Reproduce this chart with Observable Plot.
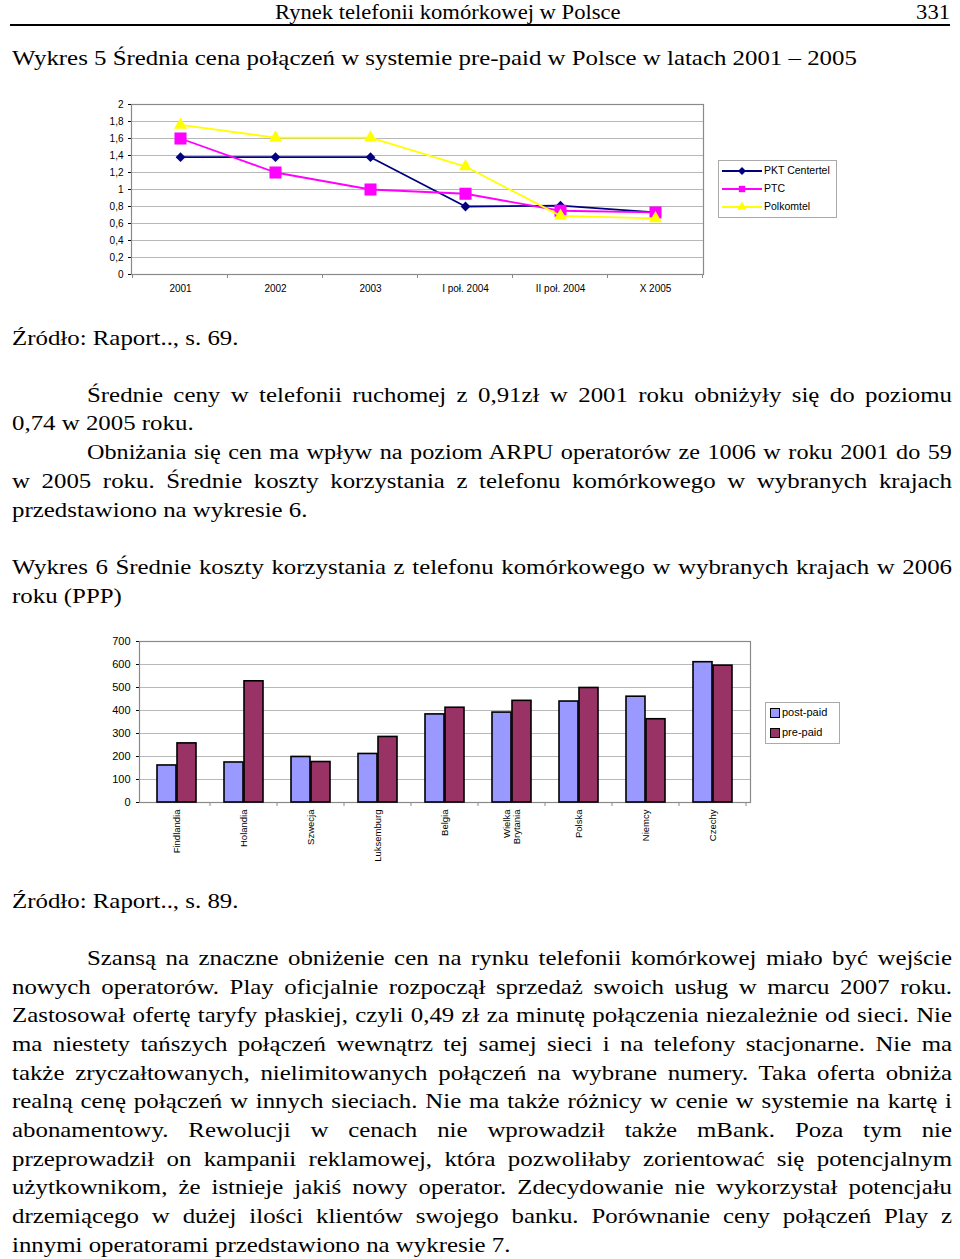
<!DOCTYPE html>
<html><head><meta charset="utf-8">
<script src="https://cdn.jsdelivr.net/npm/d3@7"></script>
<script src="https://cdn.jsdelivr.net/npm/@observablehq/plot@0.6"></script>
<style>
body{margin:0;background:#fff;width:960px;height:1259px;position:relative;overflow:hidden;font-family:"Liberation Serif","Times New Roman",serif;color:#000}
.t{position:absolute;font-size:22px;line-height:28.7px;white-space:nowrap;transform:scaleX(1.13);transform-origin:0 0}
.h{font-size:20px}
.ln{position:absolute;left:12px;width:831.9px;font-size:22px;line-height:28.7px;height:28.7px;overflow:visible;white-space:nowrap;transform:scaleX(1.13);transform-origin:0 0}
.j{text-align:justify;text-align-last:justify}
.ind{left:87px;width:765.5px}
.chart{position:absolute;left:0}
.leg{position:absolute;border:1px solid #aaa;background:#fff;font-family:"Liberation Sans",Arial,sans-serif;font-size:10.5px}
.leg div{position:absolute;white-space:nowrap}
</style></head>
<body>
<div class="t h" style="left:275px;top:-2px">Rynek telefonii komórkowej w Polsce</div>
<div class="t h" style="right:10px;top:-2px;transform-origin:100% 0">331</div>
<div style="position:absolute;left:10px;top:24px;width:940px;height:1.5px;background:#000"></div>
<div class="t" style="left:12px;top:44px">Wykres 5 Średnia cena połączeń w systemie pre-paid w Polsce w latach 2001 – 2005</div>
<div id="c1" class="chart" style="top:90px"></div>
<div id="leg1" class="leg" style="left:718px;top:160px;width:117px;height:56px"></div>
<div class="t" style="left:12px;top:324px">Źródło: Raport.., s. 69.</div>

<div class="ln ind j" style="top:381px">Średnie ceny w telefonii ruchomej z 0,91zł w 2001 roku obniżyły się do poziomu</div>
<div class="ln" style="top:409px">0,74 w 2005 roku.</div>
<div class="ln ind j" style="top:438px;font-size:21.6px;width:772.3px;transform:scaleX(1.12)">Obniżania się cen ma wpływ na poziom ARPU operatorów ze 1006 w roku 2001 do 59</div>
<div class="ln j" style="top:467px">w 2005 roku. Średnie koszty korzystania z telefonu komórkowego w wybranych krajach</div>
<div class="ln" style="top:496px">przedstawiono na wykresie 6.</div>

<div class="ln j" style="top:553px">Wykres 6 Średnie koszty korzystania z telefonu komórkowego w wybranych krajach w 2006</div>
<div class="ln" style="top:582px">roku (PPP)</div>
<div id="c2" class="chart" style="top:630px"></div>
<div id="leg2" class="leg" style="left:765px;top:702px;width:73px;height:40px"></div>
<div class="t" style="left:12px;top:887px">Źródło: Raport.., s. 89.</div>

<div class="ln ind j" style="top:944px">Szansą na znaczne obniżenie cen na rynku telefonii komórkowej miało być wejście</div>
<div class="ln j" style="top:973px">nowych operatorów. Play oficjalnie rozpoczął sprzedaż swoich usług w marcu 2007 roku.</div>
<div class="ln j" style="top:1001px">Zastosował ofertę taryfy płaskiej, czyli 0,49 zł za minutę połączenia niezależnie od sieci. Nie</div>
<div class="ln j" style="top:1030px">ma niestety tańszych połączeń wewnątrz tej samej sieci i na telefony stacjonarne. Nie ma</div>
<div class="ln j" style="top:1059px">także zryczałtowanych, nielimitowanych połączeń na wybrane numery. Taka oferta obniża</div>
<div class="ln j" style="top:1087px">realną cenę połączeń w innych sieciach. Nie ma także różnicy w cenie w systemie na kartę i</div>
<div class="ln j" style="top:1116px">abonamentowy. Rewolucji w cenach nie wprowadził także mBank. Poza tym nie</div>
<div class="ln j" style="top:1145px">przeprowadził on kampanii reklamowej, która pozwoliłaby zorientować się potencjalnym</div>
<div class="ln j" style="top:1173px">użytkownikom, że istnieje jakiś nowy operator. Zdecydowanie nie wykorzystał potencjału</div>
<div class="ln j" style="top:1202px">drzemiącego w dużej ilości klientów swojego banku. Porównanie ceny połączeń Play z</div>
<div class="ln" style="top:1231px">innymi operatorami przedstawiono na wykresie 7.</div>

<script>
// ---- Chart 1 data ----
const periods = ["2001", "2002", "2003", "I poł. 2004", "II poł. 2004", "X 2005"];
const operators = ["PKT Centertel", "PTC", "Polkomtel"];
const pktCentertel = [1.38, 1.38, 1.38, 0.80, 0.81, 0.73];
const ptc = [1.60, 1.20, 1.00, 0.95, 0.75, 0.73];
const polkomtel = [1.76, 1.61, 1.61, 1.27, 0.69, 0.66];
const yTicks1 = [0, 0.2, 0.4, 0.6, 0.8, 1, 1.2, 1.4, 1.6, 1.8, 2];
const opColors = ["#000080", "#ff00ff", "#ffff00"];
const opSymbols = ["diamond2", "square", "triangle"];
const opSizes = [4.4, 6.8, 4.8];

// ---- Chart 2 data ----
const countries = ["Findlandia", "Holandia", "Szwecja", "Luksemburg", "Belgia", "Wielka\nBrytania", "Polska", "Niemcy", "Czechy"];
const seriesNames = ["post-paid", "pre-paid"];
const postPaid = [161, 174, 198, 211, 383, 391, 439, 460, 610];
const prePaid = [257, 527, 176, 285, 412, 442, 498, 362, 595];
const yTicks2 = [0, 100, 200, 300, 400, 500, 600, 700];
const seriesColors = ["#9999ff", "#993366"];

const commaFmt = d => String(d).replace(".", ",");
const sans = "'Liberation Sans', Arial, sans-serif";

const seriesByOp = [pktCentertel, ptc, polkomtel];
const data1 = [];
operators.forEach((op, k) => periods.forEach((p, i) => data1.push({op, period: p, v: seriesByOp[k][i]})));

const marks1 = [
  Plot.ruleY(yTicks1.slice(1), {stroke: "#b8b8b8", strokeWidth: 1}),
  Plot.frame({stroke: "#8a8a8a", strokeWidth: 1.2})
];
operators.forEach((op, k) => {
  const d = data1.filter(e => e.op === op);
  marks1.push(Plot.line(d, {x: "period", y: "v", stroke: opColors[k], strokeWidth: 1.8}));
  marks1.push(Plot.dot(d, {x: "period", y: "v", symbol: () => opSymbols[k], fill: opColors[k], r: opSizes[k], stroke: "none"}));
});

const c1 = Plot.plot({
  width: 720, height: 215, marginLeft: 131, marginRight: 17, marginTop: 14, marginBottom: 31,
  style: {fontFamily: sans, fontSize: "10px", background: "transparent", overflow: "visible"},
  x: {type: "point", domain: periods, padding: 0.5, label: null, tickSize: 0, tickPadding: 10},
  y: {domain: [0, 2], ticks: yTicks1, tickFormat: commaFmt, tickSize: 3, tickPadding: 5, label: null},
  symbol: {type: "identity"},
  marks: marks1
});
document.getElementById("c1").appendChild(c1);
{
  const sx = c1.scale("x");
  const step = sx.apply(periods[1]) - sx.apply(periods[0]);
  const g = d3.select(c1).append("g").attr("stroke", "#8a8a8a");
  const yb = 215 - 31;
  periods.forEach((p, i) => {
    const x = sx.apply(p) + step / 2;
    g.append("line").attr("x1", x).attr("x2", x).attr("y1", yb).attr("y2", yb + 4);
  });
  g.append("line").attr("x1", sx.apply(periods[0]) - step / 2).attr("x2", sx.apply(periods[0]) - step / 2).attr("y1", yb).attr("y2", yb + 4);
}

// legend 1
{
  const leg = document.getElementById("leg1");
  operators.forEach((op, k) => {
    const y = 10 + k * 18;
    const svg = d3.create("svg").attr("width", 42).attr("height", 14)
      .style("position", "absolute").style("left", "3px").style("top", (y - 7) + "px");
    svg.append("line").attr("x1", 0).attr("x2", 40).attr("y1", 7).attr("y2", 7).attr("stroke", opColors[k]).attr("stroke-width", 1.8);
    const sym = {diamond2: d3.symbolDiamond2, square: d3.symbolSquare, triangle: d3.symbolTriangle}[opSymbols[k]];
    svg.append("path").attr("transform", "translate(20,7)").attr("d", d3.symbol(sym, Math.PI * 3.6 * 3.6)()).attr("fill", opColors[k]);
    leg.appendChild(svg.node());
    const t = document.createElement("div");
    t.textContent = op; t.style.left = "45px"; t.style.top = (y - 7) + "px";
    leg.appendChild(t);
  });
}

// ---- Chart 2 ----
const data2 = countries.map((c, i) => ({country: c, post: postPaid[i], pre: prePaid[i]}));
const c2 = Plot.plot({
  width: 760, height: 240, marginLeft: 139, marginRight: 10, marginTop: 11, marginBottom: 68,
  style: {fontFamily: sans, fontSize: "9.5px", background: "transparent", overflow: "visible"},
  x: {type: "band", domain: countries, padding: 0, label: null, tickSize: 0, tickPadding: 7, tickRotate: -90},
  y: {domain: [0, 700], ticks: yTicks2, tickSize: 3, tickPadding: 6, label: null},
  marks: [
    Plot.ruleY(yTicks2.slice(1), {stroke: "#b8b8b8", strokeWidth: 1}),
    Plot.frame({stroke: "#8a8a8a", strokeWidth: 1.2}),
    Plot.barY(data2, {x: "country", y: "post", fill: seriesColors[0], stroke: "#000", strokeWidth: 1.6, insetLeft: 14, insetRight: 34}),
    Plot.barY(data2, {x: "country", y: "pre", fill: seriesColors[1], stroke: "#000", strokeWidth: 1.6, insetLeft: 34, insetRight: 14})
  ]
});
d3.select(c2).selectAll("g[aria-label='y-axis'] text, g[aria-label='y-axis tick label'] text").style("font-size", "11px");
document.getElementById("c2").appendChild(c2);
{
  const sx = c2.scale("x");
  const bw = sx.apply(countries[1]) - sx.apply(countries[0]);
  const g = d3.select(c2).append("g").attr("stroke", "#8a8a8a");
  const yb = 240 - 68;
  countries.forEach(c => {
    const x = sx.apply(c) + bw;
    g.append("line").attr("x1", x).attr("x2", x).attr("y1", yb).attr("y2", yb + 4);
  });
}

// legend 2
{
  const leg = document.getElementById("leg2");
  seriesNames.forEach((s, k) => {
    const y = 10 + k * 20;
    const sw = document.createElement("div");
    sw.style.cssText = `left:4px;top:${y - 5}px;width:8px;height:8px;border:1px solid #000;background:${seriesColors[k]}`;
    leg.appendChild(sw);
    const t = document.createElement("div");
    t.textContent = s; t.style.left = "16px"; t.style.top = (y - 7) + "px"; t.style.fontSize = "11px";
    leg.appendChild(t);
  });
}
</script>
</body></html>
